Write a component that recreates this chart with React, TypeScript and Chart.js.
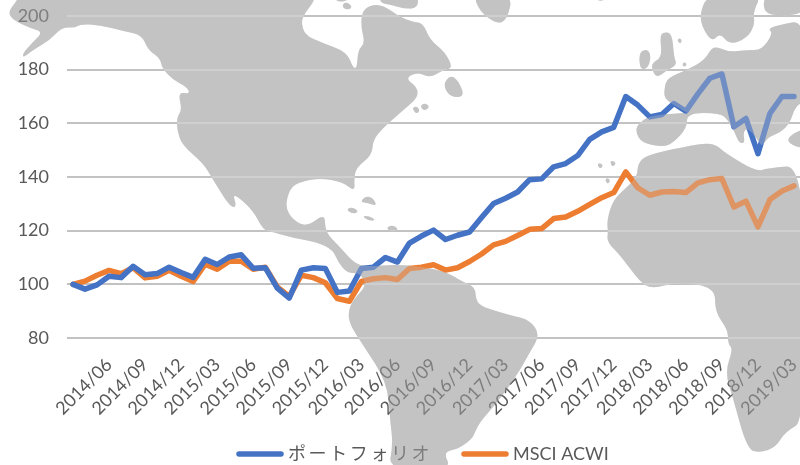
import React, { useEffect, useRef } from "react";
import { Chart, registerables } from "chart.js";

Chart.register(...registerables);

const months: string[] = [
  "2014/03", "2014/04", "2014/05", "2014/06", "2014/07", "2014/08", "2014/09", "2014/10", "2014/11", "2014/12",
  "2015/01", "2015/02", "2015/03", "2015/04", "2015/05", "2015/06", "2015/07", "2015/08", "2015/09", "2015/10",
  "2015/11", "2015/12", "2016/01", "2016/02", "2016/03", "2016/04", "2016/05", "2016/06", "2016/07", "2016/08",
  "2016/09", "2016/10", "2016/11", "2016/12", "2017/01", "2017/02", "2017/03", "2017/04", "2017/05", "2017/06",
  "2017/07", "2017/08", "2017/09", "2017/10", "2017/11", "2017/12", "2018/01", "2018/02", "2018/03", "2018/04",
  "2018/05", "2018/06", "2018/07", "2018/08", "2018/09", "2018/10", "2018/11", "2018/12", "2019/01", "2019/02",
  "2019/03",
];

const portfolio: number[] = [
  100, 98.2, 99.8, 103, 102.5, 106.7, 103.6, 104, 106.4, 104.4,
  102.6, 109.3, 107.4, 110.2, 111, 106, 106.2, 98.6, 94.9, 105.3,
  106.2, 105.9, 97, 97.5, 105.9, 106.4, 110, 108.3, 115.4, 118,
  120.2, 116.7, 118.3, 119.5, 124.9, 130.1, 132.1, 134.4, 139, 139.3,
  143.8, 145, 148, 154, 156.8, 158.5, 170, 166.8, 162.4, 163.3,
  167.4, 164.5, 171, 176.8, 178.4, 158.7, 161.8, 148.7, 163.7, 170,
  170,
];

const acwi: number[] = [
  100, 101.2, 103.4, 105.2, 104, 106.2, 102.4, 103, 105.2, 103,
  101.1, 107.5, 105.6, 108.6, 108.6, 105.6, 106.4, 99, 95.5, 103.4,
  102.5, 100.6, 94.7, 93.7, 101.1, 102.1, 102.5, 101.8, 105.9, 106.4,
  107.3, 105.3, 106.2, 108.5, 111.3, 114.7, 116, 118.2, 120.5, 120.8,
  124.5, 125.1, 127.2, 129.8, 132.3, 134.2, 141.9, 136, 133.2, 134.4,
  134.6, 134.2, 137.8, 139, 139.4, 128.8, 131, 121.4, 131.6, 134.8,
  136.7,
];

const seriesNames = ["ポートフォリオ", "MSCI ACWI"];
const BLUE = "#4472c4";
const ORANGE = "#ed7d31";
const INK = "#595959";
const LAND = "#c3c3c3";
const FONT = "Lato, 'Noto Sans CJK JP', sans-serif";

// Outlines of the backdrop world map, as canvas pixel rings; smoothed when drawn.
const landRings: number[][][] = [
  // North and Central America, joined to South America
  [[-6, -6], [313, -6], [315, 0], [305, 13], [301, 22], [305, 35], [320, 42], [347, 52], [353, 68], [357, 68], [358, 50], [365, 43], [361, 27], [362, 12], [370, 5], [383, 5], [400, 17], [413, 22], [423, 23], [430, 40], [445, 52], [453, 68], [443, 70], [430, 78], [418, 72], [405, 78], [417, 87], [418, 97], [407, 107], [400, 113], [383, 128], [373, 140], [372, 155], [357, 167], [354, 177], [355, 192], [343, 182], [320, 178], [300, 182], [290, 188], [285, 207], [293, 220], [307, 227], [325, 213], [325, 232], [340, 247], [353, 262], [365, 267], [400, 264], [443, 270], [463, 282], [475, 287], [476, 300], [482, 307], [510, 315], [530, 320], [540, 335], [530, 352], [520, 370], [510, 385], [495, 405], [480, 422], [475, 432], [472, 439], [458, 449], [443, 452], [452, 470], [388, 470], [393, 445], [390, 419], [387, 382], [363, 345], [350, 325], [348, 312], [353, 300], [367, 285], [360, 273], [347, 273], [338, 262], [333, 250], [317, 242], [293, 238], [273, 232], [263, 230], [253, 210], [232, 192], [237, 207], [230, 207], [212, 178], [203, 163], [182, 145], [177, 130], [177, 117], [182, 110], [178, 92], [190, 94], [187, 87], [173, 80], [162, 68], [160, 58], [148, 50], [142, 35], [123, 31], [100, 25], [80, 24], [75, 28], [62, 27], [50, 40], [33, 50], [23, 58], [23, 53], [33, 42], [43, 32], [30, 28], [13, 20], [8, 12], [16, 2], [20, -6]],
  // Greenland and the Arctic islands
  [[473, -6], [480, 12], [497, 24], [507, 20], [513, -6]],
  [[592, -6], [600, 3], [612, -6]],
  [[380, -6], [418, -6], [418, 8], [405, 9], [392, 5], [380, 3]],
  [[330, -6], [340, 4], [358, -6]],
  // Newfoundland and the Caribbean
  [[443, 85], [450, 75], [458, 80], [465, 97], [450, 97]],
  [[360, 202], [366, 196], [373, 198], [377, 206], [368, 203]],
  [[346, 209], [353, 207], [359, 212], [352, 214]],
  [[362, 216], [369, 216], [376, 220], [369, 221]],
  [[386, 228], [392, 225], [399, 229], [392, 232]],
  [[412, 108], [417, 106], [420, 111], [416, 114]],
  [[420, 106], [425, 103], [430, 107], [424, 111]],
  [[345, 2], [350, 4], [352, 8], [346, 10], [342, 6]],
  // Scandinavia and the far north
  [[708, -6], [700, 13], [702, 27], [712, 42], [720, 33], [730, 45], [747, 38], [755, 25], [753, 12], [762, -6]],
  [[765, -6], [763, 10], [773, 16], [806, 14], [806, -6]],
  // Britain, Ireland and nearby islands
  [[663, 32], [672, 33], [674, 57], [677, 65], [667, 70], [657, 78], [652, 70], [652, 63], [662, 57], [660, 37]],
  [[639, 52], [648, 49], [651, 57], [648, 68], [640, 70]],
  [[677, 40], [680, 38], [682, 41], [680, 44]],
  [[682, 64], [685, 62], [687, 65], [684, 67]],
  // Continental Europe with Iberia and the Mediterranean coast
  [[806, 20], [778, 25], [768, 29], [773, 33], [762, 50], [747, 50], [728, 52], [713, 45], [705, 60], [687, 70], [667, 78], [664, 90], [665, 100], [686, 112], [688, 113], [650, 115], [637, 125], [636, 133], [642, 143], [663, 147], [673, 143], [687, 128], [687, 113], [720, 113], [728, 120], [735, 133], [739, 143], [745, 143], [743, 132], [748, 128], [758, 140], [762, 147], [768, 137], [780, 133], [790, 123], [795, 107], [806, 100]],
  // Anatolia
  [[806, 128], [790, 135], [787, 143], [806, 150]],
  // Africa with Arabia
  [[638, 163], [647, 155], [683, 147], [713, 142], [725, 153], [757, 172], [767, 168], [806, 165], [806, 420], [785, 432], [776, 447], [760, 453], [747, 449], [733, 398], [725, 372], [733, 349], [728, 344], [728, 330], [715, 312], [715, 287], [677, 282], [652, 289], [640, 282], [620, 255], [607, 242], [608, 232], [607, 220], [613, 200], [627, 187], [637, 177]],
  // Atlantic islands
  [[597, 164], [601, 163], [603, 166], [600, 169]],
  [[610, 161], [614, 161], [616, 164], [612, 167]],
  [[605, 179], [609, 178], [610, 182], [607, 184]],
];

function traceLand(ctx: CanvasRenderingContext2D) {
  ctx.beginPath();
  for (const ring of landRings) {
    const n = ring.length;
    const mid = (a: number[], b: number[]) => [(a[0] + b[0]) / 2, (a[1] + b[1]) / 2];
    const start = mid(ring[n - 1], ring[0]);
    ctx.moveTo(start[0], start[1]);
    for (let i = 0; i < n; i++) {
      const m = mid(ring[i], ring[(i + 1) % n]);
      ctx.quadraticCurveTo(ring[i][0], ring[i][1], m[0], m[1]);
    }
    ctx.closePath();
  }
}

// The map is laid down in two passes: a darkening fill beneath the lines that
// turns the white page grey and keeps axis text, then a thin veil above them.
const mapLayer = {
  id: "mapLayer",
  beforeDatasetsDraw(chart: any) {
    const { ctx, chartArea, scales } = chart;
    ctx.save();
    ctx.globalCompositeOperation = "darken";
    ctx.fillStyle = LAND;
    traceLand(ctx);
    ctx.fill();
    ctx.globalCompositeOperation = "source-over";
    // Gridlines read paler than the land they cross.
    traceLand(ctx);
    ctx.clip();
    ctx.strokeStyle = "#d6d6d6";
    ctx.lineWidth = 2;
    for (const tick of scales.y.ticks) {
      const y = Math.round(scales.y.getPixelForValue(tick.value) - 1) + 1;
      ctx.beginPath();
      ctx.moveTo(chartArea.left, y);
      ctx.lineTo(chartArea.right, y);
      ctx.stroke();
    }
    ctx.restore();
  },
  afterDatasetsDraw(chart: any) {
    const { ctx } = chart;
    ctx.save();
    ctx.globalAlpha = 0.35;
    ctx.fillStyle = LAND;
    traceLand(ctx);
    ctx.fill();
    ctx.restore();
  },
};

// Key under the plot: each entry is a rounded stroke followed by its series name.
const legendEntries = [
  { name: seriesNames[0], color: BLUE, x0: 239, x1: 281, textX: 288, spacing: "2.6px" },
  { name: seriesNames[1], color: ORANGE, x0: 464, x1: 506, textX: 513, spacing: "0px" },
];

const seriesKey = {
  id: "seriesKey",
  afterDatasetsDraw(chart: any) {
    const { ctx } = chart;
    const y = 454;
    ctx.save();
    ctx.lineCap = "round";
    ctx.lineWidth = 5.5;
    ctx.textBaseline = "middle";
    ctx.font = `18px ${FONT}`;
    for (const e of legendEntries) {
      ctx.globalCompositeOperation = "source-over";
      ctx.strokeStyle = e.color;
      ctx.beginPath();
      ctx.moveTo(e.x0, y);
      ctx.lineTo(e.x1, y);
      ctx.stroke();
      ctx.fillStyle = INK;
      (ctx as any).letterSpacing = e.spacing;
      ctx.fillText(e.name, e.textX, y);
    }
    ctx.restore();
  },
};

export default function App() {
  const canvasRef = useRef<HTMLCanvasElement | null>(null);

  useEffect(() => {
    document.body.style.margin = "0";
    const chart = new Chart(canvasRef.current as HTMLCanvasElement, {
      type: "line",
      data: {
        labels: months,
        datasets: [
          { label: seriesNames[0], data: portfolio, borderColor: BLUE, backgroundColor: BLUE },
          { label: seriesNames[1], data: acwi, borderColor: ORANGE, backgroundColor: ORANGE },
        ],
      },
      plugins: [seriesKey, mapLayer],
      options: {
        responsive: false,
        animation: false,
        layout: { padding: { top: 16, left: 0, right: 0, bottom: 0 } },
        elements: {
          point: { radius: 0 },
          line: { borderWidth: 5.5, tension: 0, borderCapStyle: "round", borderJoinStyle: "round" },
        },
        plugins: {
          title: { display: false },
          tooltip: { enabled: false },
          legend: { display: false },
        },
        scales: {
          x: {
            offset: true,
            border: { display: false },
            grid: { display: false },
            afterFit(scale: any) {
              scale.height = 127;
              scale.paddingLeft = 0;
              scale.paddingRight = 0;
            },
            ticks: {
              autoSkip: false,
              minRotation: 45,
              maxRotation: 45,
              padding: 8,
              color: INK,
              font: { family: FONT, size: 18 },
              callback(_v: any, i: number) {
                return i > 0 && i % 3 === 0 ? months[i] : "";
              },
            },
          },
          y: {
            min: 80,
            max: 200,
            afterFit(scale: any) {
              scale.width = 67;
              scale.paddingTop = 0;
              scale.paddingBottom = 0;
            },
            border: { display: false },
            grid: { color: "#c2c2c2", lineWidth: 2, drawTicks: false },
            ticks: {
              stepSize: 20,
              padding: 18,
              color: INK,
              font: { family: FONT, size: 18 },
            },
          },
        },
      },
    } as any);
    return () => chart.destroy();
  }, []);

  return (
    <div style={{ width: 800, height: 465 }}>
      <canvas ref={canvasRef} width={800} height={465} style={{ display: "block" }} />
    </div>
  );
}
